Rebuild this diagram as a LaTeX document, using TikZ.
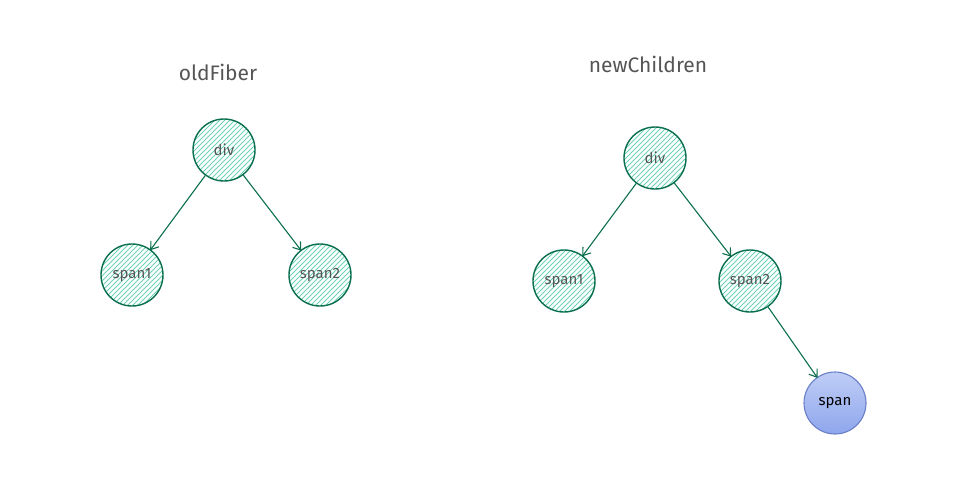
\documentclass[tikz,border=0pt]{standalone}
\usepackage{fontspec}
\setmainfont{Fira Sans}
\usetikzlibrary{arrows.meta}
\definecolor{stroke}{HTML}{0B6E4F}
\definecolor{hatch}{HTML}{6CD3B5}
\definecolor{txt}{HTML}{555555}
\definecolor{bluetop}{HTML}{BFCDF6}
\definecolor{bluebot}{HTML}{8EA6EC}
\definecolor{blueline}{HTML}{6A7FC8}
\tikzset{
  hatched/.style={path picture={
    \foreach \i in {-84,-79,...,84}
      \draw[hatch, line width=0.8pt]
        ([xshift=\i pt-40pt,yshift=-40pt]path picture bounding box.center) -- ++(80pt,80pt);}},
  fiber/.style={circle, draw=stroke, line width=1.4pt, minimum size=62pt, inner sep=0pt,
    hatched, font=\fontsize{15}{17}\selectfont, text=txt},
  newnode/.style={circle, draw=blueline, line width=1.1pt, minimum size=62pt, inner sep=0pt,
    top color=bluetop, bottom color=bluebot, font=\fontsize{15}{17}\selectfont, text=black},
  title/.style={font=\fontsize{21}{24}\selectfont, text=txt},
  edge/.style={draw=stroke, line width=1.1pt, -{Straight Barb[length=7pt,width=10pt,line width=1.1pt]}, shorten >=-1pt}
}
\begin{document}
\begin{tikzpicture}[x=1pt,y=-1pt]
\useasboundingbox (0,0) rectangle (966,488);
\node[title] (t1) at (218,72) {oldFiber};
\node[title] (t2) at (648,64) {newChildren};

\node[fiber] (d1) at (224,150) {div};
\node[fiber] (a1) at (132,275) {span1};
\node[fiber] (b1) at (320,275) {span2};

\node[fiber] (d2) at (655,158) {div};
\node[fiber] (a2) at (564,281) {span1};
\node[fiber] (b2) at (750,281) {span2};
\node[newnode] (c2) at (835,403) {span};

\draw[edge] (d1) -- (a1);
\draw[edge] (d1) -- (b1);
\draw[edge] (d2) -- (a2);
\draw[edge] (d2) -- (b2);
\draw[edge] (b2) -- (c2);
\end{tikzpicture}
\end{document}
